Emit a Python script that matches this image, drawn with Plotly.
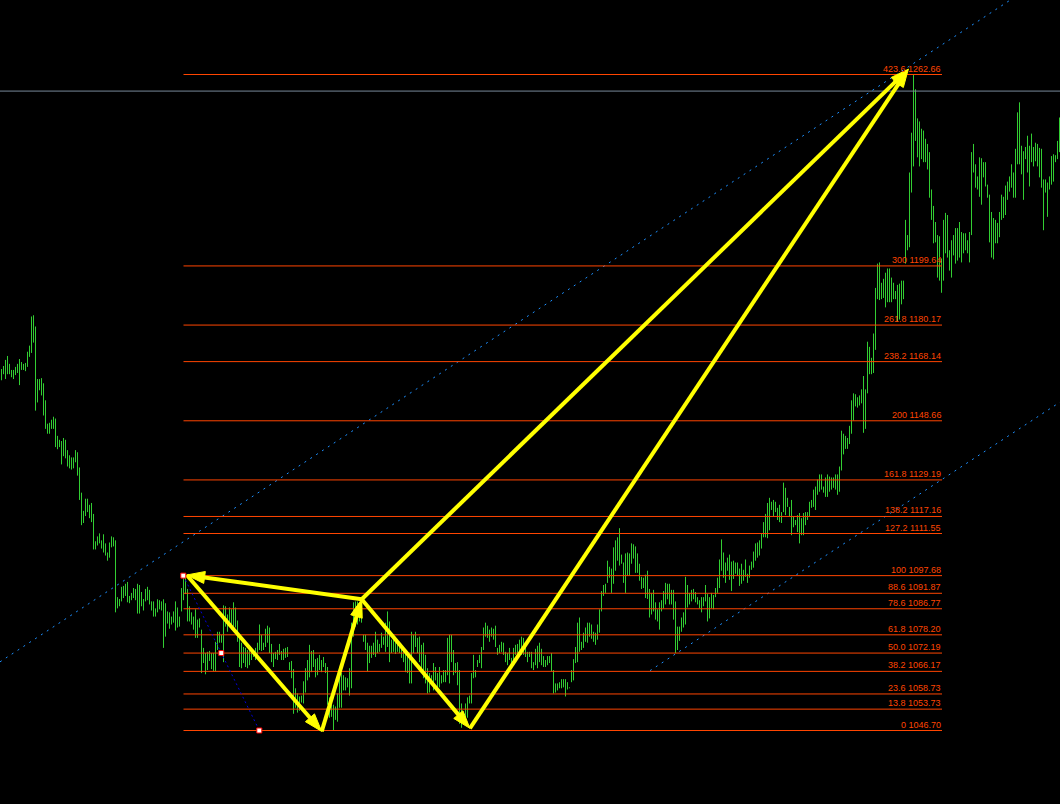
import plotly.graph_objects as go

# ---------------- data (prices) ----------------
HIGH = [
 1165.7,1166.7,1168.7,1170.0,1167.4,1165.4,1165.4,1166.4,1167.4,1169.0,
 1168.0,1167.4,1167.7,1171.4,1173.4,1183.0,1183.4,1179.7,1162.4,1162.4,
 1162.7,1161.0,1155.4,1147.7,1148.0,1149.0,1150.0,1149.4,1143.7,1142.4,
 1142.0,1143.0,1142.4,1139.0,1137.3,1136.6,1136.6,1139.0,1138.3,1133.3,
 1125.0,1119.0,1123.0,1123.0,1121.0,1121.6,1118.0,1109.0,1110.6,1111.6,
 1109.3,1111.3,1108.3,1105.3,1108.6,1110.6,1110.3,1109.3,1090.6,1090.0,
 1094.0,1094.3,1095.0,1095.6,1091.0,1092.0,1093.6,1093.3,1095.0,1094.6,
 1092.3,1090.0,1093.3,1094.0,1093.0,1089.2,1089.2,1086.9,1089.9,1089.6,
 1089.2,1089.9,1088.6,1085.9,1085.6,1084.2,1085.9,1089.2,1087.2,1084.2,
 1093.6,1097.68,1097.3,1093.3,1087.6,1085.6,1084.2,1086.6,1083.2,1083.6,
 1079.9,1073.9,1072.2,1072.6,1072.9,1072.2,1072.2,1075.9,1079.2,1079.2,
 1078.2,1087.9,1087.6,1084.9,1087.2,1086.6,1088.9,1087.2,1082.9,1077.6,
 1075.6,1074.2,1073.9,1073.2,1074.6,1073.9,1073.2,1073.9,1075.6,1081.6,
 1078.2,1075.6,1080.2,1081.2,1080.6,1075.2,1072.2,1072.6,1073.2,1075.2,
 1072.9,1073.6,1073.9,1074.2,1069.2,1069.6,1066.9,1060.6,1058.9,1057.9,
 1058.2,1062.9,1067.2,1069.9,1074.9,1072.9,1073.2,1070.2,1070.6,1071.6,
 1069.9,1070.9,1068.9,1067.6,1057.6,1055.2,1055.2,1054.6,1058.9,1065.6,
 1065.6,1064.9,1064.2,1063.9,1067.2,1082.2,1088.9,1089.2,1089.2,1086.6,
 1088.9,1078.2,1078.2,1075.6,1074.6,1074.6,1075.6,1079.2,1076.6,1075.2,
 1078.9,1077.6,1082.2,1085.9,1082.6,1076.6,1077.2,1075.9,1075.6,1075.9,
 1074.9,1073.2,1072.6,1072.2,1071.6,1079.2,1078.2,1079.2,1077.2,1077.6,
 1074.9,1075.6,1071.6,1067.2,1065.6,1064.9,1068.9,1067.6,1065.6,1067.6,
 1064.9,1066.6,1066.6,1077.2,1078.2,1078.2,1073.2,1068.9,1069.2,1066.6,
 1055.6,1052.6,1055.6,1057.6,1058.2,1065.6,1071.6,1066.6,1069.9,1071.6,
 1074.2,1080.6,1082.2,1081.2,1079.9,1080.6,1080.2,1081.2,1073.9,1074.9,
 1075.9,1075.6,1072.6,1072.2,1073.9,1070.6,1073.9,1074.9,1075.2,1076.6,
 1077.6,1077.2,1074.2,1072.6,1072.6,1072.6,1069.2,1073.6,1074.6,1075.6,
 1073.6,1071.2,1069.9,1071.2,1071.2,1072.2,1066.6,1062.2,1062.2,1062.6,
 1063.6,1063.6,1063.6,1062.6,1060.9,1066.6,1070.2,1074.2,1082.2,1083.9,
 1075.9,1078.9,1080.6,1082.2,1082.2,1081.6,1079.2,1078.9,1081.6,1086.6,
 1092.6,1094.6,1095.0,1102.6,1100.6,1100.0,1107.0,1109.3,1110.3,1113.3,
 1104.6,1102.0,1105.0,1105.3,1105.0,1108.3,1108.0,1107.3,1105.0,1101.6,
 1097.3,1097.0,1098.0,1099.3,1093.3,1092.0,1093.0,1088.9,1086.6,1088.9,
 1089.6,1092.6,1095.3,1095.0,1095.0,1093.0,1093.0,1089.2,1080.9,1080.9,
 1083.9,1085.6,1097.3,1094.6,1092.0,1093.0,1093.3,1092.3,1090.6,1089.6,
 1090.6,1090.6,1094.6,1091.6,1090.6,1092.0,1091.3,1093.6,1097.0,1103.0,
 1109.6,1105.3,1102.0,1103.6,1104.6,1102.3,1102.6,1102.0,1102.0,1100.0,
 1101.6,1099.6,1103.0,1098.3,1101.0,1102.3,1105.6,1108.3,1108.6,1109.3,
 1111.6,1115.3,1118.0,1121.6,1123.3,1122.0,1122.6,1122.0,1120.0,1121.0,
 1118.6,1128.3,1126.6,1123.3,1120.3,1122.6,1117.0,1116.0,1117.6,1118.3,
 1116.6,1118.3,1118.6,1118.6,1122.0,1122.6,1126.0,1127.0,1129.3,1131.0,
 1131.0,1127.0,1130.0,1131.0,1130.3,1130.0,1130.0,1131.0,1131.0,1133.6,
 1145.4,1144.4,1143.7,1143.0,1147.0,1155.4,1157.7,1157.4,1156.4,1157.0,
 1159.0,1163.4,1159.0,1174.7,1173.0,1169.4,1177.4,1192.4,1200.4,1200.8,
 1194.1,1195.4,1197.4,1198.8,1198.8,1195.8,1194.1,1191.4,1193.4,1193.8,
 1194.8,1194.8,1214.8,1209.8,1230.4,1243.5,1262.66,1257.8,1248.2,1247.2,
 1244.8,1244.2,1241.5,1239.8,1237.1,1224.8,1219.4,1214.1,1209.8,1209.4,
 1202.1,1214.8,1217.1,1216.4,1204.8,1208.1,1209.8,1212.1,1212.1,1214.1,
 1210.8,1210.4,1210.4,1208.1,1210.8,1237.1,1239.8,1233.1,1229.1,1235.4,
 1235.1,1233.8,1233.8,1226.4,1223.1,1217.4,1215.4,1214.8,1213.8,1217.4,
 1223.1,1222.4,1226.1,1227.4,1229.1,1233.1,1230.4,1238.2,1250.2,1253.5,
 1239.2,1237.4,1238.8,1242.5,1239.2,1243.2,1238.8,1240.2,1239.8,1238.5,
 1238.2,1228.1,1228.1,1227.1,1229.1,1235.8,1236.4,1236.1,1240.8,1248.5,
]
LOW = [
 1162.0,1164.0,1162.4,1164.0,1164.0,1163.0,1162.4,1163.7,1164.4,1160.4,
 1165.4,1165.4,1165.0,1166.4,1169.7,1171.0,1174.4,1152.0,1154.7,1158.7,
 1157.0,1150.4,1146.0,1144.4,1144.4,1146.0,1146.0,1140.0,1139.3,1140.0,
 1134.3,1137.0,1136.3,1133.6,1133.0,1132.6,1133.0,1135.0,1130.6,1122.6,
 1114.3,1115.0,1117.3,1118.6,1116.6,1115.3,1106.3,1106.3,1107.6,1108.3,
 1106.6,1105.3,1104.3,1102.6,1103.6,1107.0,1107.3,1085.6,1086.9,1087.6,
 1089.2,1090.3,1091.0,1088.9,1088.6,1089.6,1090.3,1089.6,1085.2,1085.2,
 1087.6,1086.2,1089.2,1089.6,1088.2,1086.2,1084.2,1084.2,1085.6,1086.6,
 1086.2,1073.9,1077.6,1081.9,1080.2,1081.6,1082.2,1079.6,1080.6,1080.9,
 1085.9,1089.6,1091.6,1082.6,1082.6,1081.6,1079.9,1077.2,1077.2,1080.6,
 1065.6,1068.9,1065.2,1066.6,1069.6,1066.9,1066.2,1066.2,1073.2,1075.6,
 1075.6,1069.2,1080.9,1079.2,1081.6,1079.9,1080.9,1080.6,1075.9,1067.6,
 1067.2,1068.9,1067.6,1067.2,1068.2,1069.9,1070.9,1069.9,1071.6,1073.2,
 1072.9,1073.2,1074.2,1075.6,1072.2,1069.2,1067.6,1070.2,1069.9,1071.6,
 1069.9,1069.9,1070.6,1070.9,1066.6,1063.9,1052.2,1054.2,1052.6,1053.2,
 1055.9,1055.6,1059.2,1063.2,1064.2,1065.9,1067.6,1064.2,1064.9,1066.6,
 1065.9,1067.6,1065.6,1055.2,1050.9,1051.2,1046.70,1050.2,1049.6,1054.2,
 1054.2,1059.9,1059.9,1060.9,1058.2,1060.6,1077.6,1080.9,1081.6,1082.6,
 1082.2,1075.9,1073.2,1066.2,1068.9,1070.6,1071.6,1070.9,1072.2,1072.6,
 1073.9,1074.9,1072.6,1074.2,1069.2,1072.2,1072.6,1071.9,1072.6,1072.2,
 1070.6,1069.2,1065.9,1065.6,1062.2,1062.2,1072.2,1074.2,1072.2,1069.2,
 1065.9,1063.9,1062.2,1058.9,1059.2,1061.6,1059.9,1063.2,1059.9,1060.9,
 1062.2,1062.6,1062.6,1064.9,1062.2,1069.2,1064.9,1065.6,1061.6,1048.9,
 1047.6,1048.9,1048.2,1050.9,1055.6,1055.6,1063.9,1064.2,1067.6,1068.9,
 1067.2,1073.2,1077.6,1077.2,1075.9,1077.6,1076.6,1074.2,1071.6,1072.2,
 1072.6,1071.6,1069.2,1068.2,1069.9,1068.2,1068.9,1071.6,1070.9,1072.6,
 1071.6,1071.6,1070.9,1069.2,1070.9,1067.2,1066.6,1068.2,1067.2,1069.2,
 1068.2,1067.6,1067.6,1068.2,1068.9,1066.2,1058.9,1059.2,1059.9,1060.6,
 1060.6,1060.9,1057.9,1060.2,1060.6,1062.6,1063.2,1068.9,1069.2,1072.6,
 1073.2,1073.9,1075.9,1075.6,1077.6,1076.9,1075.9,1074.9,1076.6,1078.9,
 1085.9,1091.0,1092.0,1095.3,1097.0,1092.0,1095.0,1099.3,1102.6,1101.0,
 1101.6,1095.3,1092.0,1097.6,1097.6,1101.6,1103.3,1098.6,1098.6,1096.0,
 1093.3,1093.6,1090.3,1090.0,1083.9,1084.9,1085.9,1083.2,1082.6,1079.9,
 1085.9,1086.9,1088.2,1089.9,1088.2,1088.2,1083.2,1072.2,1073.2,1076.2,
 1079.2,1080.6,1081.6,1087.2,1088.2,1089.2,1089.9,1088.9,1088.2,1086.9,
 1085.6,1087.6,1089.2,1082.6,1083.6,1086.9,1086.6,1090.6,1092.0,1093.6,
 1099.3,1097.0,1095.3,1099.3,1096.3,1092.6,1096.6,1098.3,1097.6,1094.3,
 1095.0,1096.0,1097.3,1095.3,1097.0,1099.6,1100.3,1102.6,1103.6,1104.3,
 1106.6,1110.3,1110.3,1110.0,1112.6,1119.3,1117.0,1118.6,1116.0,1115.3,
 1115.0,1118.6,1117.6,1120.3,1117.0,1111.0,1113.6,1114.3,1112.0,1108.3,
 1111.0,1111.0,1114.3,1116.0,1117.0,1120.0,1120.3,1119.3,1124.3,1125.3,
 1126.0,1125.0,1123.6,1123.6,1125.3,1126.0,1126.6,1126.0,1124.3,1125.3,
 1132.3,1137.6,1139.4,1139.4,1141.0,1144.4,1148.7,1153.4,1153.0,1153.7,
 1154.4,1144.7,1146.0,1157.7,1164.0,1164.0,1164.4,1172.0,1188.7,1188.4,
 1188.7,1189.1,1186.0,1187.7,1187.7,1187.7,1188.7,1188.7,1181.4,1182.0,
 1187.0,1188.7,1200.4,1204.8,1205.8,1223.8,1232.4,1240.8,1235.4,1232.4,
 1234.8,1233.8,1233.8,1231.4,1222.1,1214.8,1207.1,1207.4,1195.8,1194.8,
 1190.8,1194.8,1203.8,1202.4,1198.1,1195.8,1203.1,1200.4,1201.4,1202.4,
 1200.8,1203.8,1204.8,1203.8,1200.8,1209.8,1230.4,1225.4,1224.8,1222.4,
 1219.8,1228.8,1225.8,1222.1,1207.4,1202.4,1201.8,1207.1,1207.1,1209.1,
 1214.8,1215.4,1216.4,1221.4,1224.1,1225.4,1222.1,1222.1,1233.1,1233.1,
 1229.8,1221.4,1234.8,1230.4,1225.8,1233.8,1232.4,1234.1,1232.4,1228.8,
 1225.4,1211.4,1223.8,1215.8,1224.8,1226.4,1227.4,1233.8,1234.8,1237.1,
]

# Fibonacci levels (label, price)
FIB_LEVELS = ["423.6", "300", "261.8", "238.2", "200", "161.8", "138.2", "127.2",
              "100", "88.6", "78.6", "61.8", "50.0", "38.2", "23.6", "13.8", "0"]
FIB_PRICES = [1262.66, 1199.64, 1180.17, 1168.14, 1148.66, 1129.19, 1117.16, 1111.55,
              1097.68, 1091.87, 1086.77, 1078.20, 1072.19, 1066.17, 1058.73, 1053.73, 1046.70]
FIB_START_BAR = 91
FIB_END_BAR = 470.25

# fibo base trend line (bar, price)
FIB_TREND_BARS = [90.9, 109.9, 128.9]
FIB_TREND_PRICES = [1097.68, 1072.19, 1046.70]

# channel lines (bar, price) end points
CH_UP_BARS = [-0.75, 529.25]
CH_UP_PRICES = [1069.3, 1297.9]
CH_LO_BARS = [324.25, 529.25]
CH_LO_PRICES = [1066.4, 1154.8]

# horizontal grey price line
HLINE_PRICE = 1257.2

# zig-zag pivots for the yellow arrows (bar, price)
PIVOT_NAMES = ["A", "B", "C", "D", "E"]
PIVOT_BARS = [92.6, 160.1, 180.1, 234.2, 453.4]
PIVOT_PRICES = [1097.9, 1046.4, 1089.9, 1047.4, 1264.4]
ARROWS = [("C", "A"), ("A", "B"), ("B", "C"), ("C", "D"), ("D", "E"), ("C", "E")]

# ---------------- figure ----------------
W, H = 1060, 804
XR = [-0.75, 529.25]
YR = [1022.503, 1287.186]
PX_X = W / (XR[1] - XR[0])
PX_Y = H / (YR[1] - YR[0])

BAR_COLOR = "#32CD32"
FIB_COLOR = "#FF4500"
YELLOW = "#FFFF00"

fig = go.Figure()

# price bars as vertical high-low lines
bx, by = [], []
for i, (h, l) in enumerate(zip(HIGH, LOW)):
    bx += [i, i, None]
    by += [l, h, None]
fig.add_trace(go.Scatter(x=bx, y=by, mode="lines",
                         line=dict(color=BAR_COLOR, width=1), hoverinfo="skip"))

# grey horizontal line
fig.add_trace(go.Scatter(x=[XR[0], XR[1]], y=[HLINE_PRICE, HLINE_PRICE], mode="lines",
                         line=dict(color="#778899", width=1), hoverinfo="skip"))

# channel dotted lines
for bars, prices in [(CH_UP_BARS, CH_UP_PRICES), (CH_LO_BARS, CH_LO_PRICES)]:
    fig.add_trace(go.Scatter(x=bars, y=prices, mode="lines",
                             line=dict(color="#1E90FF", width=1, dash="2px,5px"),
                             hoverinfo="skip"))

# fib levels
fx, fy = [], []
for p in FIB_PRICES:
    fx += [FIB_START_BAR, FIB_END_BAR, None]
    fy += [p, p, None]
fig.add_trace(go.Scatter(x=fx, y=fy, mode="lines",
                         line=dict(color=FIB_COLOR, width=1), hoverinfo="skip"))

# fib trend line
fig.add_trace(go.Scatter(x=[FIB_TREND_BARS[0], FIB_TREND_BARS[-1]],
                         y=[FIB_TREND_PRICES[0], FIB_TREND_PRICES[-1]], mode="lines",
                         line=dict(color="#0000DD", width=1, dash="2px,3px"),
                         hoverinfo="skip"))

# yellow arrows
def to_px(b, p):
    return ((b - XR[0]) * PX_X, (YR[1] - p) * PX_Y)

def to_data(x, y):
    return (XR[0] + x / PX_X, YR[1] - y / PX_Y)

piv = {n: (b, p) for n, b, p in zip(PIVOT_NAMES, PIVOT_BARS, PIVOT_PRICES)}
HL, HW = 18.0, 6.0
for a, b in ARROWS:
    x0, y0 = to_px(*piv[a])
    x1, y1 = to_px(*piv[b])
    dx, dy = x1 - x0, y1 - y0
    ln = (dx * dx + dy * dy) ** 0.5
    ux, uy = dx / ln, dy / ln
    bxp, byp = x1 - HL * ux, y1 - HL * uy
    px_, py_ = -uy, ux
    c1 = (bxp + HW * px_, byp + HW * py_)
    c2 = (bxp - HW * px_, byp - HW * py_)
    lb = to_data(bxp + 2 * ux, byp + 2 * uy)
    fig.add_trace(go.Scatter(x=[piv[a][0], lb[0]], y=[piv[a][1], lb[1]], mode="lines",
                             line=dict(color=YELLOW, width=4), hoverinfo="skip"))
    tri = [to_data(x1, y1), to_data(*c1), to_data(*c2), to_data(x1, y1)]
    fig.add_trace(go.Scatter(x=[t[0] for t in tri], y=[t[1] for t in tri], mode="lines",
                             fill="toself", fillcolor=YELLOW,
                             line=dict(color=YELLOW, width=1), hoverinfo="skip"))

# small selection markers on the fib trend line
fig.add_trace(go.Scatter(x=FIB_TREND_BARS, y=FIB_TREND_PRICES, mode="markers",
                         marker=dict(symbol="square", size=5, color="white",
                                     line=dict(color="#FF0000", width=1)),
                         hoverinfo="skip"))

# fib labels
for lvl, p in zip(FIB_LEVELS, FIB_PRICES):
    fig.add_annotation(x=FIB_END_BAR, y=p, text=f"{lvl} {p:.2f}", showarrow=False,
                       xanchor="right", yanchor="bottom", yshift=0,
                       font=dict(family="Liberation Sans, Arial", size=9, color=FIB_COLOR),
                       borderpad=0)

fig.update_layout(
    width=W, height=H,
    margin=dict(l=0, r=0, t=0, b=0),
    paper_bgcolor="#000000", plot_bgcolor="#000000",
    showlegend=False,
    xaxis=dict(range=XR, visible=False, fixedrange=True),
    yaxis=dict(range=YR, visible=False, fixedrange=True),
)

fig.write_html("out.html", config={"displayModeBar": False},
               post_script="document.body.style.margin='0';document.body.style.background='#000';")
